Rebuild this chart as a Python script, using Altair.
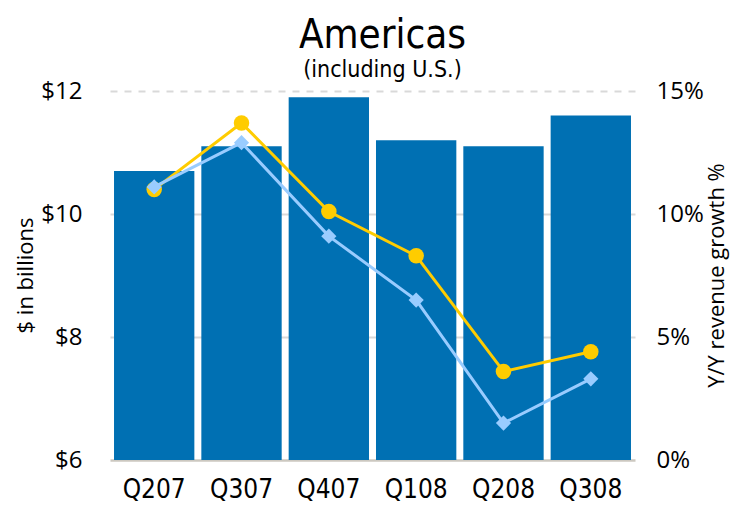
import altair as alt
import pandas as pd

quarters = ["Q207", "Q307", "Q407", "Q108", "Q208", "Q308"]
revenue = [10.7, 11.1, 11.9, 11.2, 11.1, 11.6]
growth = [11.0, 13.7, 10.1, 8.3, 3.6, 4.4]
growth_cc = [11.1, 12.9, 9.1, 6.5, 1.5, 3.3]

df = pd.DataFrame({"quarter": quarters, "revenue": revenue,
                   "growth": growth, "growth_cc": growth_cc})

NARROW = "Liberation Sans Narrow, DejaVu Sans Condensed, sans-serif"
REG = "Open Sans, sans-serif"

x = alt.X("quarter:N", sort=quarters, title=None,
          scale=alt.Scale(paddingInner=0.08, paddingOuter=0.046),
          axis=alt.Axis(labelAngle=0, labelFont=NARROW, labelFontSize=26,
                        labelColor="#000000", labelPadding=16, ticks=False,
                        domain=True, domainColor="#CCC8C0", domainWidth=2.5))

bars = alt.Chart(df).mark_bar(color="#0070B3").encode(
    x=x,
    y=alt.Y("revenue:Q", title="$ in billions",
            scale=alt.Scale(domain=[6, 12], zero=False, nice=False),
            axis=alt.Axis(values=[6, 8, 10, 12], labelExpr="'$' + datum.value",
                          labelFont=REG, labelFontSize=24, labelColor="#000000",
                          labelPadding=28, ticks=False, domain=False,
                          grid=True, gridColor="#D9D9D9", gridWidth=2,
                          gridDash=alt.condition("datum.value == 12", alt.value([7, 7]), alt.value([])),
                          gridOpacity=alt.condition("datum.value == 6", alt.value(0), alt.value(1)),
                          titleFont=REG, titleFontSize=22, titleFontWeight="normal",
                          titleColor="#000000", titleAngle=270, titleX=-85, titleY=184,
                          titleBaseline="middle", titleAlign="center")),
    y2=alt.datum(6),
)

ry = alt.Axis(orient="right", values=[0, 5, 10, 15], labelExpr="datum.value + '%'",
              labelFont=REG, labelFontSize=24, labelColor="#000000",
              labelPadding=21, ticks=False, domain=False, grid=False,
              title="Y/Y revenue growth %", titleFont=REG, titleFontSize=22,
              titleFontWeight="normal", titleColor="#000000", titleAngle=270,
              titleX=81, titleY=184, titleBaseline="middle", titleAlign="center")
rscale = alt.Scale(domain=[0, 15], nice=False)

yellow = alt.Chart(df).mark_line(
    color="#FFCC00", strokeWidth=3,
    point=alt.OverlayMarkDef(shape="circle", size=240, color="#FFCC00", filled=True, opacity=1),
).encode(x=x, y=alt.Y("growth:Q", scale=rscale, axis=ry))

blue = alt.Chart(df).mark_line(
    color="#99CCFF", strokeWidth=3,
    point=alt.OverlayMarkDef(shape="diamond", size=230, color="#99CCFF", filled=True, opacity=1),
).encode(x=x, y=alt.Y("growth_cc:Q", scale=rscale, axis=ry))

chart = alt.layer(bars, alt.layer(yellow, blue)).resolve_scale(y="independent").properties(
    width=525, height=369,
    autosize=alt.AutoSizeParams(type="none"),
    padding={"left": 102, "top": 83, "right": 97, "bottom": 48},
    title=alt.TitleParams(text="Americas", subtitle="(including U.S.)",
                          font=NARROW, fontSize=40, fontWeight="normal", color="#000000",
                          subtitleFont=NARROW, subtitleFontSize=23, subtitleColor="#000000",
                          anchor="middle", dx=10, offset=-3, subtitlePadding=3),
).configure_view(stroke=None)

chart.save("out.html", embed_options={"renderer": "svg", "actions": False})
